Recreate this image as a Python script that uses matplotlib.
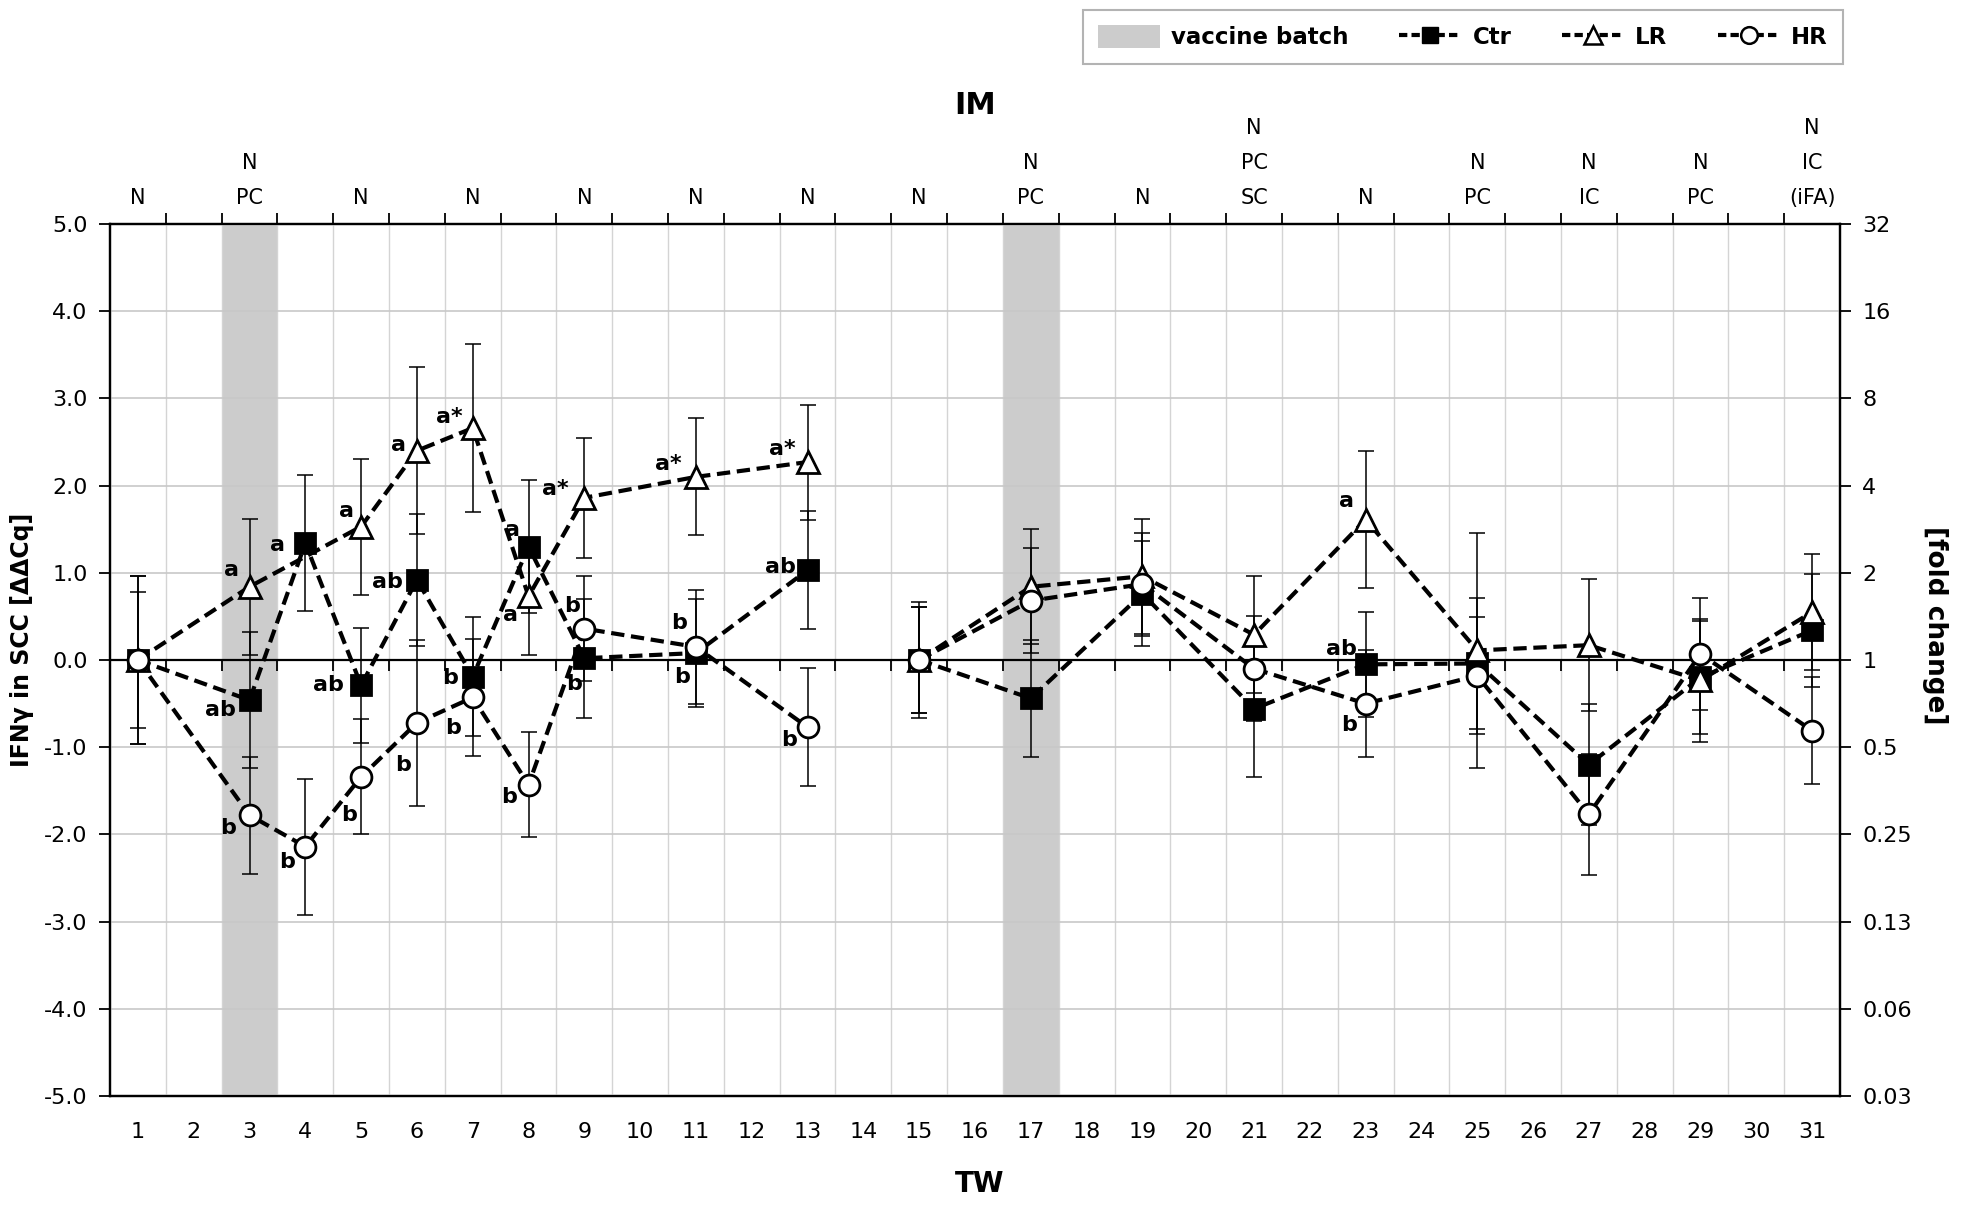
import matplotlib
matplotlib.use("Agg")
import matplotlib.pyplot as plt
from matplotlib.patches import Patch
from matplotlib.lines import Line2D
from matplotlib.ticker import FixedLocator

# ---------------- data ----------------
categories = list(range(1, 32))
vaccine_weeks = [3, 17]

ctr_weeks = [1, 3, 4, 5, 6, 7, 8, 9, 11, 13, 15, 17, 19, 21, 23, 25, 27, 29, 31]
ctr_vals = [0.0, -0.46, 1.34, -0.29, 0.92, -0.19, 1.30, 0.02, 0.08, 1.03,
            0.0, -0.44, 0.76, -0.56, -0.05, -0.04, -1.20, -0.20, 0.34]
ctr_err = [0.78, 0.78, 0.78, 0.66, 0.76, 0.68, 0.76, 0.68, 0.62, 0.68,
           0.61, 0.67, 0.60, 0.78, 0.60, 0.75, 0.69, 0.65, 0.65]

lr_weeks = [1, 3, 5, 6, 7, 8, 9, 11, 13, 15, 17, 19, 21, 23, 25, 27, 29, 31]
lr_vals = [0.0, 0.84, 1.53, 2.40, 2.66, 0.73, 1.86, 2.10, 2.27,
           0.0, 0.84, 0.96, 0.29, 1.61, 0.11, 0.17, -0.235, 0.55]
lr_err = [0.96, 0.78, 0.78, 0.96, 0.96, 0.67, 0.69, 0.67, 0.66,
          0.67, 0.66, 0.66, 0.67, 0.79, 1.35, 0.76, 0.70, 0.67]

hr_weeks = [1, 3, 4, 5, 6, 7, 8, 9, 11, 13, 15, 17, 19, 21, 23, 25, 27, 29, 31]
hr_vals = [0.0, -1.78, -2.14, -1.34, -0.72, -0.43, -1.43, 0.36, 0.15, -0.77,
           0.0, 0.68, 0.87, -0.10, -0.50, -0.18, -1.77, 0.07, -0.81]
hr_err = [0.96, 0.67, 0.78, 0.66, 0.95, 0.67, 0.60, 0.60, 0.65, 0.68,
          0.61, 0.60, 0.59, 0.60, 0.61, 0.67, 0.69, 0.64, 0.61]

y_ticks = [-5, -4, -3, -2, -1, 0, 1, 2, 3, 4, 5]
y_ticklabels = ["-5.0", "-4.0", "-3.0", "-2.0", "-1.0", "0.0", "1.0", "2.0", "3.0", "4.0", "5.0"]
fold_labels = ["0.03", "0.06", "0.13", "0.25", "0.5", "1", "2", "4", "8", "16", "32"]

im_weeks = [1, 3, 5, 7, 9, 11, 13, 15, 17, 19, 21, 23, 25, 27, 29, 31]
im_texts = [["N"], ["N", "PC"], ["N"], ["N"], ["N"], ["N"], ["N"], ["N"],
            ["N", "PC"], ["N"], ["N", "PC", "SC"], ["N"], ["N", "PC"],
            ["N", "IC"], ["N", "PC"], ["N", "IC", "(iFA)"]]

# significance letters: (series, week, text)
sig_series = ["LR", "Ctr", "HR", "Ctr", "HR", "LR", "Ctr", "HR", "LR", "Ctr", "HR",
              "LR", "Ctr", "HR", "Ctr", "LR", "HR", "LR", "HR", "Ctr",
              "LR", "HR", "Ctr", "LR", "Ctr", "HR", "LR", "Ctr", "HR"]
sig_weeks = [3, 3, 3, 4, 4, 5, 5, 5, 6, 6, 6,
             7, 7, 7, 8, 8, 8, 9, 9, 9,
             11, 11, 11, 13, 13, 13, 23, 23, 23]
sig_texts = ["a", "ab", "b", "a", "b", "a", "ab", "b", "a", "ab", "b",
             "a*", "b", "b", "a", "a", "b", "a*", "b", "b",
             "a*", "b", "b", "a*", "ab", "b", "a", "ab", "b"]
# label offsets from marker in pixels (x right, y down) - layout only
sig_offsets = [(-18, -17), (-29, 10), (-21, 13), (-28, 2), (-18, 15), (-15, -16), (-33, 0), (-12, 38),
               (-18, -6), (-29, 2), (-14, 42), (-23, -11), (-23, 1), (-20, 31), (-16, -17), (-18, 19),
               (-19, 12), (-29, -9), (-12, -23), (-10, 26), (-28, -13), (-17, -24), (-14, 24),
               (-25, -13), (-27, -3), (-19, 13), (-19, -19), (-24, -15), (-17, 21)]

# ---------------- figure ----------------
W, H = 1961, 1212
fig = plt.figure(figsize=(W / 100, H / 100), dpi=100)
L, R, T, B = 110, 1840, 224, 1096
ax = fig.add_axes([L / W, 1 - B / H, (R - L) / W, (B - T) / H])

ax.set_xlim(categories[0] - 0.5, categories[-1] + 0.5)
ax.set_ylim(-5, 5)

# vaccine batch shading
for wk in vaccine_weeks:
    ax.axvspan(wk - 0.5, wk + 0.5, color="#cccccc", lw=0, zorder=0.5)

# grid
bounds = [c + 0.5 for c in categories[:-1]]
ax.xaxis.set_major_locator(FixedLocator(categories))
ax.set_xticklabels([str(c) for c in categories])
ax.xaxis.set_minor_locator(FixedLocator(bounds))
ax.grid(which="minor", axis="x", color="#d4d4d4", lw=1.0, zorder=0.6)
ax.set_yticks(y_ticks)
ax.set_yticklabels(y_ticklabels)
ax.grid(which="major", axis="y", color="#c8c8c8", lw=1.2, zorder=0.6)
ax.set_axisbelow(True)

ax.tick_params(axis="x", which="major", length=0, pad=19, labelsize=16)
ax.tick_params(axis="x", which="minor", bottom=False, top=True, direction="out",
               length=8, width=1.3, color="black")
ax.tick_params(axis="y", which="major", direction="out", length=8, width=1.3,
               pad=8, labelsize=16)

for sp in ax.spines.values():
    sp.set_linewidth(1.6)
    sp.set_color("black")

# zero line with downward ticks
ax.axhline(0, color="black", lw=1.6, zorder=1)
ax.plot(bounds, [0] * len(bounds), ls="none", marker=3, markersize=8,
        mew=1.3, color="black", zorder=1)

# right axis
ax2 = ax.twinx()
ax2.set_ylim(-5, 5)
ax2.set_yticks(y_ticks)
ax2.set_yticklabels(fold_labels)
ax2.tick_params(axis="y", direction="out", length=8, width=1.3, pad=8, labelsize=16)
for sp in ax2.spines.values():
    sp.set_linewidth(1.6)
ax.set_zorder(ax2.get_zorder() + 1)
ax.patch.set_visible(False)


def draw_series(weeks, vals, errs, marker, mfc, ms, z):
    segs = [[i for i, w in enumerate(weeks) if w <= 13],
            [i for i, w in enumerate(weeks) if w >= 15]]
    ax.errorbar(weeks, vals, yerr=errs, fmt="none", ecolor="black",
                elinewidth=1.1, capsize=5.5, capthick=1.1, zorder=2)
    for seg in segs:
        xs = [weeks[i] for i in seg]
        ys = [vals[i] for i in seg]
        ax.plot(xs, ys, color="black", lw=3.0, ls=(0, (3.2, 1.6)),
                marker=marker, markersize=ms, mfc=mfc, mec="black",
                mew=2.0, zorder=z)


draw_series(ctr_weeks, ctr_vals, ctr_err, "s", "black", 14, 3)
draw_series(lr_weeks, lr_vals, lr_err, "^", "white", 16, 4)
draw_series(hr_weeks, hr_vals, hr_err, "o", "white", 15, 5)

# significance letters
lookup = {"Ctr": dict(zip(ctr_weeks, ctr_vals)),
          "LR": dict(zip(lr_weeks, lr_vals)),
          "HR": dict(zip(hr_weeks, hr_vals))}
for s, wk, txt, (dx, dy) in zip(sig_series, sig_weeks, sig_texts, sig_offsets):
    ax.annotate(txt, xy=(wk, lookup[s][wk]), xytext=(dx * 0.72, -dy * 0.72),
                textcoords="offset points", ha="center", va="center",
                fontsize=16, fontweight="bold", zorder=6)

# top annotations
for wk, lines in zip(im_weeks, im_texts):
    for i, line in enumerate(reversed(lines)):
        ax.annotate(line, xy=(wk, 1), xycoords=("data", "axes fraction"),
                    xytext=(0, (26 + 35 * i) * 0.72), textcoords="offset points",
                    ha="center", va="center", fontsize=15, annotation_clip=False)

ax.annotate("IM", xy=(0.5, 1), xycoords="axes fraction", xytext=(0, 119 * 0.72),
            textcoords="offset points", ha="center", va="center",
            fontsize=22, fontweight="bold")

fig.text(980 / W, 1 - 1184 / H, "TW", ha="center", va="center",
         fontsize=20, fontweight="bold")
fig.text(22 / W, 1 - 640 / H, "IFN\u03b3 in SCC [\u0394\u0394Cq]", rotation=90,
         ha="center", va="center", fontsize=17, fontweight="bold")
fig.text(1935 / W, 1 - 625 / H, "[fold change]", rotation=270,
         ha="center", va="center", fontsize=19, fontweight="bold")

# legend
handles = [Patch(facecolor="#cccccc", edgecolor="none"),
           Line2D([], [], color="black", lw=3.0, ls=(0, (2.0, 1.0)), marker="s",
                  mfc="black", mec="black", markersize=12),
           Line2D([], [], color="black", lw=3.0, ls=(0, (2.0, 1.0)), marker="^",
                  mfc="white", mec="black", mew=1.8, markersize=13),
           Line2D([], [], color="black", lw=3.0, ls=(0, (2.0, 1.0)), marker="o",
                  mfc="white", mec="black", mew=1.8, markersize=12)]
leg = fig.legend(handles, ["vaccine batch", "Ctr", "LR", "HR"], ncol=4,
                 loc="upper right", bbox_to_anchor=(1843 / W, 1 - 10 / H),
                 frameon=True, fancybox=False, edgecolor="#a0a0a0",
                 prop={"weight": "bold", "size": 16.5}, handlelength=2.7,
                 handleheight=1.2, columnspacing=2.2, handletextpad=0.5,
                 borderpad=0.65, borderaxespad=0)
leg.get_frame().set_linewidth(1.5)

fig.savefig("out.png", dpi=100)
